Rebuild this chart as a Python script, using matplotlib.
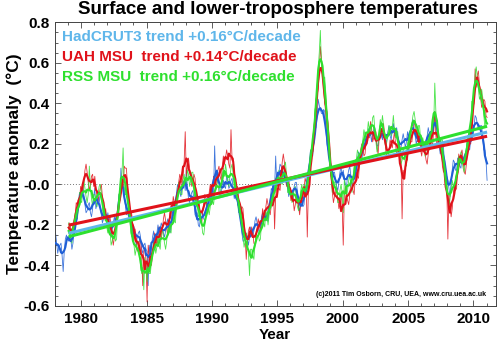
import numpy as np
import pandas as pd
import matplotlib
matplotlib.use('Agg')
from matplotlib import pyplot as plt
from matplotlib.ticker import MultipleLocator

plt.rcParams['font.family'] = ['Liberation Sans', 'DejaVu Sans']
plt.rcParams['font.weight'] = 'bold'

# monthly anomalies (degC)
hadcrut_start = 1978
hadcrut = [
   -0.24,-0.29,-0.34,-0.31,-0.30,-0.29,-0.35,-0.43,-0.33,-0.27,-0.25,-0.27,  # 1978
   -0.28,-0.24,-0.27,-0.32,-0.29,-0.23,-0.18,-0.19,-0.17,-0.09,-0.04,-0.06,  # 1979
   -0.04,-0.01,-0.05,-0.10,-0.14,-0.13,-0.10,-0.09,-0.14,-0.16,-0.12,-0.06,
   -0.02,-0.12,-0.10,-0.07,-0.06,-0.11,-0.15,-0.19,-0.17,-0.14,-0.13,-0.18,
   -0.14,-0.18,-0.23,-0.26,-0.22,-0.19,-0.16,-0.19,-0.21,-0.16,-0.08,-0.08,
    0.08,-0.01, 0.00,-0.05,-0.10,-0.15,-0.14,-0.11,-0.14,-0.20,-0.24,-0.20,
   -0.21,-0.25,-0.30,-0.26,-0.24,-0.23,-0.26,-0.32,-0.34,-0.30,-0.29,-0.32,  # 1984
   -0.33,-0.50,-0.30,-0.34,-0.31,-0.26,-0.23,-0.28,-0.29,-0.24,-0.20,-0.24,
   -0.22,-0.19,-0.21,-0.24,-0.26,-0.23,-0.19,-0.17,-0.21,-0.24,-0.20,-0.13,
   -0.15,-0.15,-0.10,-0.04, 0.00,-0.02,-0.04,-0.06,-0.02, 0.01, 0.02,-0.03,
    0.07,-0.02,-0.07,-0.09,-0.06,-0.04,-0.03,-0.08,-0.15,-0.16,-0.14,-0.20,
   -0.21,-0.16,-0.13,-0.15,-0.17,-0.18,-0.14,-0.07,-0.07,-0.09,-0.10,-0.04,  # 1989
   -0.03,-0.04, 0.19, 0.02, 0.05, 0.06, 0.02,-0.04,-0.05, 0.00, 0.02,-0.01,
   -0.02, 0.04, 0.03,-0.02,-0.01, 0.02, 0.03,-0.03,-0.07,-0.04,-0.03,-0.10,
   -0.11,-0.11,-0.17,-0.24,-0.28,-0.28,-0.25,-0.24,-0.27,-0.30,-0.26,-0.21,
   -0.25,-0.26,-0.23,-0.18,-0.16,-0.19,-0.22,-0.24,-0.21,-0.16,-0.14,-0.18,
   -0.14,-0.16,-0.18,-0.18,-0.12,-0.07,-0.02,-0.03,-0.05,-0.02, 0.14, 0.00,  # 1994
   -0.01, 0.06, 0.10, 0.09, 0.07, 0.02, 0.03, 0.07, 0.04,-0.02,-0.06,-0.03,
   -0.03,-0.05,-0.07,-0.01, 0.01, 0.01,-0.04,-0.11,-0.13,-0.09,-0.09,-0.11,
   -0.10,-0.02,-0.01,-0.02, 0.04, 0.12, 0.17, 0.14, 0.14, 0.21, 0.27, 0.28,
    0.34, 0.42, 0.39, 0.37, 0.35, 0.35, 0.37, 0.36, 0.28, 0.20, 0.17, 0.17,
    0.09, 0.04, 0.04, 0.06, 0.06, 0.02,-0.01,-0.03, 0.01, 0.06, 0.09, 0.04,  # 1999
    0.07, 0.03, 0.00,-0.01, 0.04, 0.07, 0.09, 0.04,-0.01, 0.00, 0.06, 0.04,
    0.05, 0.12, 0.16, 0.15, 0.13, 0.12, 0.16, 0.22, 0.22, 0.20, 0.20, 0.27,
    0.28, 0.25, 0.21, 0.25, 0.27, 0.28, 0.24, 0.19, 0.19, 0.25, 0.27, 0.24,
    0.22, 0.27, 0.25, 0.20, 0.22, 0.26, 0.29, 0.24, 0.22, 0.27, 0.30, 0.25,
    0.26, 0.28, 0.24, 0.19, 0.16, 0.18, 0.22, 0.25, 0.22, 0.18, 0.21, 0.26,  # 2004
    0.23, 0.22, 0.26, 0.30, 0.32, 0.27, 0.24, 0.20, 0.22, 0.24, 0.24, 0.19,
    0.23, 0.20, 0.17, 0.16, 0.21, 0.24, 0.28, 0.25, 0.22, 0.24, 0.30, 0.26,
    0.36, 0.30, 0.30, 0.24, 0.19, 0.15, 0.17, 0.21, 0.18, 0.10, 0.03, 0.04,
    0.02,-0.02,-0.06, 0.01, 0.07, 0.12, 0.11, 0.07, 0.07, 0.13, 0.13, 0.09,
    0.08, 0.14, 0.13, 0.09, 0.12, 0.18, 0.22, 0.18, 0.17, 0.22, 0.26, 0.24,  # 2009
    0.28, 0.34, 0.33, 0.30, 0.27, 0.27, 0.29, 0.29, 0.23, 0.17, 0.17, 0.12,
    0.02,
]

msu_start = 1979
uah = [
   -0.23,-0.19,-0.22,-0.24,-0.26,-0.21,-0.15,-0.09,-0.10,-0.12,-0.08,-0.01,  # 1979
   -0.03,-0.04, 0.02, 0.07, 0.10, 0.06, 0.01,-0.03, 0.00, 0.04, 0.05,-0.01,
    0.04,-0.01,-0.06,-0.09,-0.05,-0.02, 0.00,-0.06,-0.13,-0.14,-0.12,-0.20,
   -0.22,-0.18,-0.16,-0.21,-0.26,-0.30,-0.26,-0.19,-0.17,-0.17,-0.14,-0.03,
   -0.01,-0.01,-0.02, 0.09, 0.08, 0.08, 0.00,-0.10,-0.15,-0.13,-0.15,-0.23,
   -0.28,-0.22,-0.26,-0.33,-0.32,-0.28,-0.27,-0.35,-0.50,-0.33,-0.32,-0.37,  # 1984
   -0.58,-0.30,-0.35,-0.39,-0.40,-0.35,-0.29,-0.24,-0.27,-0.30,-0.27,-0.21,
   -0.25,-0.27,-0.23,-0.17,-0.14,-0.18,-0.22,-0.25,-0.20,-0.14,-0.10,-0.13,
   -0.06,-0.09,-0.12,-0.12,-0.05, 0.01, 0.05, 0.03, 0.00, 0.04, 0.11, 0.26,
    0.04, 0.10, 0.13, 0.08, 0.03,-0.01, 0.01, 0.05, 0.03,-0.05,-0.11,-0.08,
   -0.10,-0.16,-0.20,-0.14,-0.09,-0.05,-0.07,-0.11,-0.11,-0.04, 0.00,-0.03,  # 1989
   -0.04, 0.04, 0.02,-0.03, 0.01, 0.07, 0.09, 0.04, 0.02, 0.09, 0.14, 0.10,
    0.13, 0.17, 0.14, 0.10, 0.08, 0.27, 0.12, 0.13, 0.06,-0.02,-0.03,-0.01,
   -0.08,-0.14,-0.13,-0.11,-0.12,-0.20,-0.26,-0.37,-0.28,-0.23,-0.21,-0.26,
   -0.21,-0.24,-0.29,-0.30,-0.25,-0.21,-0.17,-0.20,-0.23,-0.19,-0.12,-0.17,
   -0.18,-0.11,-0.07,-0.10,-0.13,-0.15,-0.10,-0.03,-0.02,-0.22,-0.06,-0.01,  # 1994
    0.00,-0.02,-0.03, 0.05, 0.11, 0.15, 0.11, 0.03,-0.01, 0.02, 0.03,-0.03,
   -0.08,-0.03,-0.07,-0.13,-0.10,-0.05,-0.04,-0.11,-0.15,-0.09,-0.03,-0.06,
   -0.02, 0.03, 0.01,-0.26,-0.03, 0.02, 0.10, 0.17, 0.16, 0.19, 0.29, 0.42,
    0.44, 0.47, 0.55, 0.68, 0.62, 0.55, 0.47, 0.40, 0.38, 0.36, 0.30, 0.17,
    0.14, 0.05,-0.04,-0.09,-0.06,-0.04,-0.02,-0.07,-0.12,-0.10,-0.04,-0.10,  # 1999
   -0.30,-0.05,-0.01,-0.04,-0.08,-0.10,-0.05, 0.02, 0.01,-0.03,-0.05, 0.03,
    0.06, 0.04, 0.03, 0.11, 0.17, 0.20, 0.18, 0.14, 0.15, 0.22, 0.25, 0.23,
    0.23, 0.31, 0.28, 0.21, 0.23, 0.26, 0.26, 0.18, 0.15, 0.23, 0.29, 0.26,
    0.28, 0.30, 0.24, 0.17, 0.13, 0.14, 0.17, 0.22, 0.20, 0.18, 0.22, 0.26,
    0.20, 0.15, 0.17, 0.20, 0.19, 0.13,-0.17, 0.07, 0.04, 0.08, 0.12, 0.12,  # 2004
    0.23, 0.23, 0.21, 0.21, 0.26, 0.29, 0.31, 0.27, 0.21, 0.22, 0.25, 0.17,
    0.14, 0.19, 0.21, 0.16, 0.12, 0.10, 0.15, 0.23, 0.24, 0.21, 0.19, 0.27,
    0.36, 0.24, 0.19, 0.22, 0.23, 0.23, 0.17, 0.09, 0.06, 0.09, 0.07,-0.01,
   -0.27,-0.05,-0.10,-0.16,-0.12,-0.05, 0.00,-0.03,-0.02, 0.08, 0.15, 0.12,
    0.15, 0.17, 0.12, 0.06, 0.05, 0.10, 0.17, 0.23, 0.20, 0.20, 0.27, 0.38,  # 2009
    0.40, 0.57, 0.48, 0.54, 0.56, 0.49, 0.43, 0.38, 0.40, 0.42, 0.41, 0.34,
    0.33,
]

rss = [
   -0.19,-0.23,-0.27,-0.29,-0.23,-0.18,-0.14,-0.15,-0.17,-0.12,-0.04,-0.08,  # 1979
   -0.09,-0.02, 0.02,-0.02,-0.06,-0.09,-0.05, 0.09,-0.02,-0.07,-0.11,-0.05,
   -0.05,-0.08,-0.11,-0.05,-0.01, 0.00,-0.04,-0.12,-0.16,-0.13,-0.14,-0.21,
   -0.24,-0.19,-0.23,-0.30,-0.28,-0.24,-0.23,-0.28,-0.27,-0.15,-0.05,-0.04,
    0.00, 0.06, 0.18,-0.01,-0.05,-0.05,-0.05,-0.06,-0.15,-0.24,-0.26,-0.24,
   -0.30,-0.35,-0.32,-0.29,-0.28,-0.35,-0.40,-0.44,-0.41,-0.52,-0.36,-0.41,  # 1984
   -0.48,-0.40,-0.44,-0.44,-0.38,-0.33,-0.28,-0.30,-0.34,-0.31,-0.25,-0.30,
   -0.32,-0.25,-0.22,-0.25,-0.29,-0.32,-0.28,-0.21,-0.20,-0.23,-0.24,-0.17,
   -0.16,-0.18,-0.19,-0.10,-0.03, 0.01,-0.01,-0.05,-0.05, 0.02, 0.05, 0.01,
   -0.01, 0.07, 0.05,-0.01, 0.02, 0.06, 0.06,-0.03,-0.09,-0.07,-0.07,-0.16,
   -0.15,-0.14,-0.19,-0.24,-0.25,-0.20,-0.14,-0.09,-0.12,-0.15,-0.11,-0.04,  # 1989
   -0.08,-0.10,-0.05, 0.01, 0.04, 0.00,-0.04,-0.06,-0.01, 0.05, 0.08, 0.04,
    0.10, 0.06, 0.01,-0.01, 0.04, 0.08, 0.10, 0.05,-0.02,-0.01, 0.01,-0.09,
   -0.14,-0.11,-0.11,-0.18,-0.25,-0.31,-0.28,-0.24,-0.27,-0.34,-0.45,-0.32,
   -0.32,-0.35,-0.37,-0.30,-0.25,-0.22,-0.24,-0.28,-0.27,-0.19,-0.16,-0.19,
   -0.21,-0.13,-0.15,-0.20,-0.15,-0.08,-0.05,-0.09,-0.10,-0.02, 0.03,-0.01,  # 1994
    0.02, 0.07, 0.05, 0.01, 0.00, 0.04, 0.09, 0.11, 0.04,-0.04,-0.04,-0.01,
   -0.05,-0.09,-0.06,-0.02,-0.01,-0.07,-0.11,-0.13,-0.09,-0.03, 0.00,-0.05,
    0.00,-0.02,-0.05,-0.05, 0.03, 0.10, 0.17, 0.17, 0.16, 0.24, 0.37, 0.39,
    0.45, 0.57, 0.65, 0.76, 0.59, 0.52, 0.52, 0.53, 0.45, 0.32, 0.20, 0.19,
    0.13, 0.03,-0.04,-0.01, 0.01, 0.02,-0.03,-0.09,-0.09,-0.03, 0.00,-0.04,  # 1999
   -0.14, 0.02,-0.01,-0.06,-0.03, 0.02, 0.05,-0.01,-0.04, 0.03, 0.09, 0.07,
    0.12, 0.17, 0.15, 0.12, 0.12, 0.16, 0.22, 0.27, 0.24, 0.21, 0.25, 0.31,
    0.27, 0.24, 0.28, 0.33, 0.34, 0.27, 0.21, 0.16, 0.20, 0.27, 0.32, 0.29,
    0.34, 0.29, 0.22, 0.18, 0.21, 0.25, 0.29, 0.27, 0.24, 0.28, 0.34, 0.27,
    0.23, 0.26, 0.26, 0.20, 0.14, 0.10, 0.12, 0.17, 0.15, 0.10, 0.09, 0.20,  # 2004
    0.24, 0.23, 0.22, 0.30, 0.34, 0.36, 0.32, 0.25, 0.24, 0.29, 0.29, 0.22,
    0.18, 0.23, 0.20, 0.14, 0.17, 0.22, 0.25, 0.20, 0.19, 0.27, 0.33, 0.29,
    0.50, 0.36, 0.30, 0.23, 0.18, 0.20, 0.22, 0.22, 0.13, 0.03, 0.00, 0.01,
   -0.06,-0.11,-0.07,-0.02, 0.02,-0.01,-0.02,-0.03, 0.03, 0.11, 0.14, 0.10,
    0.16, 0.12, 0.08, 0.06, 0.12, 0.18, 0.24, 0.22, 0.21, 0.29, 0.41, 0.41,  # 2009
    0.44, 0.54, 0.58, 0.53, 0.47, 0.42, 0.44, 0.47, 0.43, 0.34, 0.28, 0.32,
    0.30,
]

labels = [
   'HadCRUT3 trend +0.16\u00b0C/decade',
   'UAH MSU  trend +0.14\u00b0C/decade',
   'RSS MSU  trend +0.16\u00b0C/decade',
]

col_had = '#1f5fd6'
col_had_light = '#5fb6ea'
col_uah = '#e0121a'
col_rss = '#2ee02e'


def months(start, n):
   return start + (np.arange(n) + 0.5) / 12.0


def main():
   t_had = months(hadcrut_start, len(hadcrut))
   t_msu = months(msu_start, len(uah))

   series = [
      (t_had, np.array(hadcrut), col_had, col_had_light),
      (t_msu, np.array(uah), col_uah, col_uah),
      (t_msu, np.array(rss), col_rss, col_rss),
   ]

   fig = plt.figure(figsize=(5.0, 3.43), dpi=100)
   ax = fig.add_axes([0.11, 0.108, 0.8814, 0.827])

   ax.axhline(0.0, color='#777777', lw=0.7, ls=(0, (1, 2)), zorder=1)

   # thin monthly lines
   for t, y, c, _ in series:
      ax.plot(t, y, color=c, lw=0.6, alpha=0.85, zorder=2)
   # smoothed lines
   for t, y, c, _ in series:
      sm = pd.Series(y).rolling(5, center=True, min_periods=1).mean()
      ax.plot(t, sm, color=c, lw=1.5, zorder=3)
   # linear trends over 1979 onwards
   for t, y, c, tc in series:
      m = t >= 1979
      p = np.polyfit(t[m], y[m], 1)
      tt = np.array([t[m][0], t[m][-1]])
      ax.plot(tt, np.polyval(p, tt), color=tc, lw=2.2, zorder=4,
              solid_capstyle='butt')

   ax.set_xlim(1978.0, 2011.7)
   ax.set_ylim(-0.6, 0.8)
   ax.xaxis.set_major_locator(MultipleLocator(5))
   ax.xaxis.set_minor_locator(MultipleLocator(1))
   yt = [-0.6, -0.4, -0.2, 0.0, 0.2, 0.4, 0.6, 0.8]
   ax.set_yticks(yt)
   ax.set_yticklabels(['-0.6', '-0.4', '-0.2', '-0.0', '0.2', '0.4', '0.6', '0.8'])
   ax.yaxis.set_minor_locator(MultipleLocator(0.05))
   ax.tick_params(which='both', direction='in', top=True, right=True,
                  labelsize=11, width=0.6, color='#444444')
   ax.tick_params(which='major', length=4.5)
   ax.tick_params(which='minor', length=2.5)
   ax.tick_params(axis='x', which='major', pad=4)
   ax.tick_params(axis='y', which='major', pad=4)
   for s in ax.spines.values():
      s.set_linewidth(0.7)
      s.set_color('#444444')

   # x axis title placed by hand so it sits just under the tick labels
   fig.text(275 / 500, 1 - 335 / 343, 'Year', ha='center', va='center',
            fontsize=11, fontweight='bold')
   ax.set_ylabel('Temperature anomaly  (\u00b0C)', fontsize=12.5, fontweight='bold',
                 labelpad=1)
   fig.text(0.555, 0.972, 'Surface and lower-troposphere temperatures',
            ha='center', va='center', fontsize=13.5, fontweight='bold')

   for i, (lab, c) in enumerate(zip(labels, [col_had_light, col_uah, col_rss])):
      fig.text(62 / 500, 1 - (37 + 20 * i) / 343, lab, color=c, ha='left',
               va='center', fontsize=11, fontweight='bold')

   fig.text(486 / 500, 1 - 295 / 343,
            '(c)2011 Tim Osborn, CRU, UEA, www.cru.uea.ac.uk',
            ha='right', va='center', fontsize=5.0, fontweight='bold')

   plt.savefig('out.png', dpi=100)


if __name__ == '__main__':
   main()
